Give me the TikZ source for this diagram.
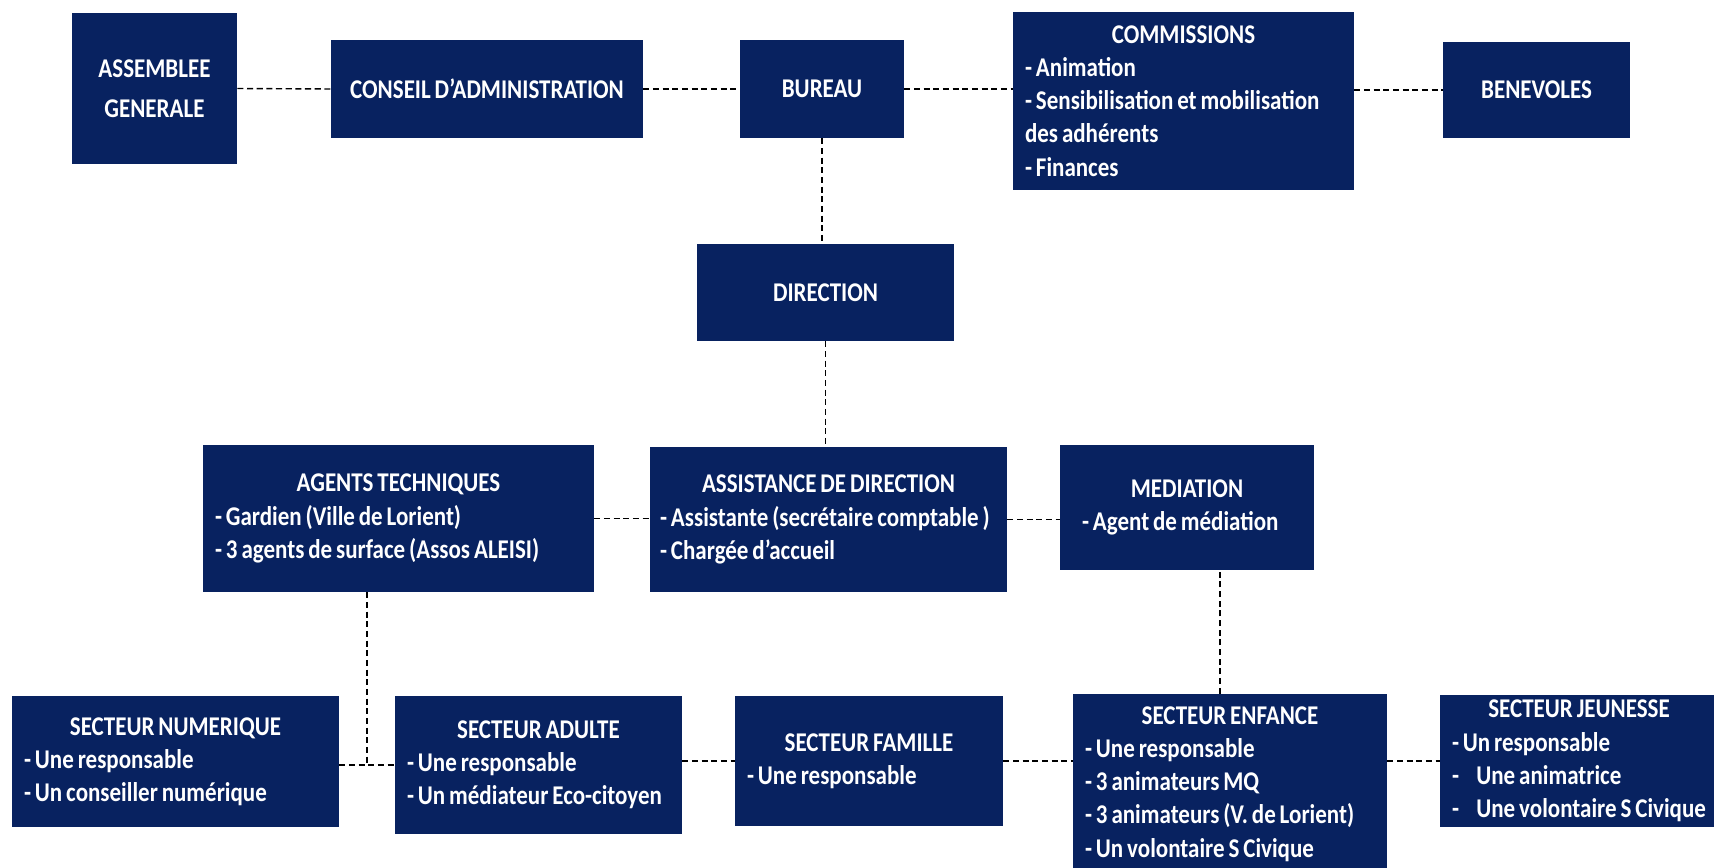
\documentclass[tikz,border=0pt]{standalone}
\usepackage{fontspec}
\setmainfont{Carlito}[FakeStretch=0.85, WordSpace=0.75]
\usetikzlibrary{positioning, calc}
\definecolor{orgnavy}{RGB}{8, 34, 96}
\newcommand{\unittitle}[1]{\makebox[\linewidth]{#1}}
\newcommand{\unitline}[1]{\mbox{#1}}
\tikzset{
    unit/.style={fill=orgnavy, text=white, inner ysep=0pt,
        font=\fontsize{15.4}{18.9}\selectfont\bfseries},
    headbox/.style={unit, align=center, inner xsep=0pt},
    listbox/.style={unit, align=flush left, inner xsep=0.24cm},
    link/.style={draw=black, line width=0.8pt, dash pattern=on 3.5pt off 2pt}
}

\begin{document}
\begin{tikzpicture}[x=0.02cm, y=-0.02cm]
        \path[use as bounding box, fill=white] (0,0) rectangle (1714,868);

        % Governance row
        \node[headbox, minimum width=3.30cm, minimum height=3.02cm] (ag) at (154.5,88.5) {ASSEMBLEE\\[4pt]GENERALE};
        \node[headbox, minimum width=6.24cm, minimum height=1.96cm] (ca) at (487,89) {CONSEIL D’ADMINISTRATION};
        \node[headbox, minimum width=3.28cm, minimum height=1.96cm] (bureau) at (822,89) {BUREAU};
        \node[listbox, text width=6.34cm, minimum height=3.56cm] (comm) at (1183.5,101) {%
            \unittitle{COMMISSIONS}\\
            \unitline{- Animation}\\
            \unitline{- Sensibilisation et mobilisation}\\
            \unitline{des adhérents}\\
            \unitline{- Finances}};
        \node[headbox, minimum width=3.74cm, minimum height=1.92cm] (benev) at (1536.5,90) {BENEVOLES};

        \draw[link] (ag.east) -- (ca.west);
        \draw[link] (ca.east) -- (bureau.west);
        \draw[link] (bureau.east) -- (bureau.east -| comm.west);
        \draw[link] (comm.east |- benev.west) -- (benev.west);

        % Direction
        \node[headbox, minimum width=5.14cm, minimum height=1.94cm] (dir) at (825.5,292.5) {DIRECTION};
        \draw[link] (bureau.south) -- (bureau.south |- dir.north);

        % Staff row
        \node[listbox, text width=7.34cm, minimum height=2.94cm] (agents) at (398.5,518.5) {%
            \unittitle{AGENTS TECHNIQUES}\\
            \unitline{- Gardien (Ville de Lorient)}\\
            \unitline{- 3 agents de surface (Assos ALEISI)}};
        \node[listbox, inner xsep=0.2cm, text width=6.74cm, minimum height=2.90cm] (assist) at (828.5,519.5) {%
            \unittitle{ASSISTANCE DE DIRECTION}\\
            \unitline{- Assistante (secrétaire comptable )}\\
            \unitline{- Chargée d’accueil}};
        \node[listbox, inner xsep=0.44cm, text width=4.20cm, minimum height=2.50cm] (med) at (1187,507.5) {%
            \unittitle{MEDIATION}\\
            \unitline{- Agent de médiation}};

        \draw[link] (dir.south) -- (dir.south |- assist.north);
        \draw[link] (agents.east) -- (agents.east -| assist.west);
        \draw[link] (assist.east) -- (assist.east -| med.west);

        % Sectors row
        \node[listbox, text width=6.06cm, minimum height=2.62cm] (num) at (175.5,761.5) {%
            \unittitle{SECTEUR NUMERIQUE}\\
            \unitline{- Une responsable}\\
            \unitline{- Un conseiller numérique}};
        \node[listbox, text width=5.26cm, minimum height=2.76cm] (adult) at (538.5,765) {%
            \unittitle{SECTEUR ADULTE}\\
            \unitline{- Une responsable}\\
            \unitline{- Un médiateur Eco-citoyen}};
        \node[listbox, text width=4.88cm, minimum height=2.60cm] (fam) at (869,761) {%
            \unittitle{SECTEUR FAMILLE}\\
            \unitline{- Une responsable}};
        \node[listbox, text width=5.80cm, minimum height=3.60cm] (enf) at (1230,784) {%
            \unittitle{SECTEUR ENFANCE}\\
            \unitline{- Une responsable}\\
            \unitline{- 3 animateurs MQ}\\
            \unitline{- 3 animateurs (V. de Lorient)}\\
            \unitline{- Un volontaire S Civique}};
        \node[listbox, text width=5.08cm, minimum height=2.64cm] (jeu) at (1579,761) {%
            \unittitle{SECTEUR JEUNESSE}\\
            \unitline{- Un responsable}\\
            \unitline{\makebox[0.9em][l]{-}Une animatrice}\\
            \unitline{\makebox[0.9em][l]{-}Une volontaire S Civique}};

        \coordinate (techjoin) at ($(num.east)!0.5!(adult.west)$);
        \draw[link] (agents.south -| techjoin) -- (techjoin);
        \draw[link] (num.east |- adult.west) -- (adult.west);
        \draw[link] (fam.west -| adult.east) -- (fam.west);
        \draw[link] (fam.east) -- (fam.east -| enf.west);
        \draw[link] (enf.east |- jeu.west) -- (jeu.west);
        \draw[link] ([xshift=-0.2cm]enf.north) -- ([xshift=-0.2cm]enf.north |- med.south);
    \end{tikzpicture}
\end{document}
